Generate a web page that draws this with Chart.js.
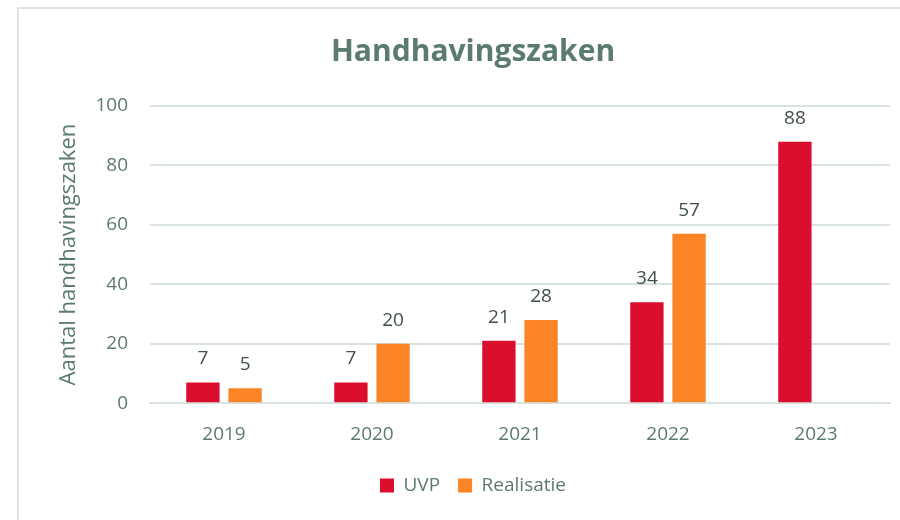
<!DOCTYPE html>
<html>
<head>
<meta charset="utf-8">
<script src="https://cdn.jsdelivr.net/npm/chart.js@4"></script>
<style>
  html, body { margin: 0; padding: 0; background: #fff; }
  #wrap { position: relative; width: 900px; height: 520px; overflow: hidden; }
  #frame { position: absolute; left: 17px; top: 7px; width: 900px; height: 540px; border: 2px solid #dbe4e0; box-sizing: border-box; }
  canvas { position: absolute; left: 0; top: 0; }
</style>
</head>
<body>
<div id="wrap">
  <div id="frame"></div>
  <canvas id="chart" width="900" height="520"></canvas>
</div>
<script>
const years = ["2019", "2020", "2021", "2022", "2023"];
const uvp = [7, 7, 21, 34, 88];
const realisatie = [5, 20, 28, 57, null];
const yTicks = [0, 20, 40, 60, 80, 100];

const textColor = "#5b7a72";
const gridColor = "#d8e2de";
const fontFamily = "'Open Sans', 'Liberation Sans', sans-serif";

// value labels above each bar
const barValues = {
  id: "barValues",
  afterDatasetsDraw(chart) {
    const { ctx } = chart;
    ctx.save();
    ctx.font = `19px ${fontFamily}`;
    ctx.fillStyle = "#414f4e";
    ctx.textAlign = "center";
    ctx.textBaseline = "bottom";
    chart.data.datasets.forEach((ds, i) => {
      const meta = chart.getDatasetMeta(i);
      meta.data.forEach((bar, j) => {
        const v = ds.data[j];
        if (v == null) return;
        ctx.fillText(String(v), bar.x, bar.y - 14);
      });
    });
    ctx.restore();
  },
};

new Chart(document.getElementById("chart"), {
  type: "bar",
  data: {
    labels: years,
    datasets: [
      {
        label: "UVP",
        data: uvp,
        backgroundColor: "#dc0e2d",
        categoryPercentage: 0.57,
        barPercentage: 0.79,
      },
      {
        label: "Realisatie",
        data: realisatie,
        backgroundColor: "#fb8426",
        categoryPercentage: 0.57,
        barPercentage: 0.79,
      },
    ],
  },
  options: {
    responsive: false,
    animation: false,
    layout: { padding: { left: 56, right: 10, top: 34, bottom: 15 } },
    plugins: {
      title: {
        display: true,
        text: "Handhavingszaken",
        color: textColor,
        font: { family: fontFamily, size: 30, weight: "bold" },
        padding: { top: 0, bottom: 36 },
      },
      legend: {
        position: "bottom",
        labels: {
          color: textColor,
          font: { family: fontFamily, size: 19 },
          boxWidth: 14,
          boxHeight: 14,
          padding: 18,
        },
      },
      tooltip: { enabled: false },
    },
    scales: {
      x: {
        grid: { display: false },
        border: { color: gridColor, width: 2 },
        ticks: { color: textColor, font: { family: fontFamily, size: 19 }, padding: 12 },
      },
      y: {
        min: 0,
        max: 100,
        afterFit(axis) { axis.width = 94; },
        afterBuildTicks(axis) { axis.ticks = yTicks.map((v) => ({ value: v })); },
        grid: { color: gridColor, lineWidth: 2, drawTicks: false },
        border: { display: false },
        ticks: { color: textColor, font: { family: fontFamily, size: 19 }, padding: 22 },
        title: {
          display: true,
          text: "Aantal handhavingszaken",
          color: textColor,
          font: { family: fontFamily, size: 22 },
          padding: { top: 0, bottom: 0 },
        },
      },
    },
  },
  plugins: [barValues],
});
</script>
</body>
</html>
